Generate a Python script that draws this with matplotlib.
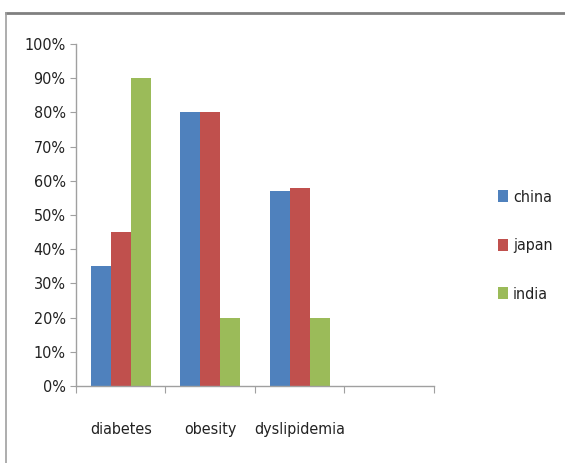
import matplotlib.pyplot as plt
import matplotlib.ticker as tck
from matplotlib.lines import Line2D
import numpy as np

plt.rcParams['font.family'] = ['DejaVu Sans']
plt.rcParams['font.stretch'] = 'condensed'

categories = ['diabetes', 'obesity', 'dyslipidemia', '']
countries = ['china', 'japan', 'india']
china = [0.35, 0.80, 0.57]
japan = [0.45, 0.80, 0.58]
india = [0.90, 0.20, 0.20]
colors = ['#4f81bd', '#c0504d', '#9bbb59']

fig = plt.figure(figsize=(5.65, 4.63), dpi=100)
ax = fig.add_axes([0.1345, 0.1663, 0.768 - 0.1345, 0.905 - 0.1663])

x = np.arange(len(china)) + 0.5
w = 0.223
for i, (vals, name) in enumerate(zip([china, japan, india], countries)):
    ax.bar(x + (i - 1) * w, vals, w, color=colors[i], label=name)

ax.set_xlim(0, len(categories))
ax.set_ylim(0, 1.0)
ax.yaxis.set_major_locator(tck.MultipleLocator(0.1))
ax.yaxis.set_major_formatter(tck.PercentFormatter(1.0, decimals=0))

# category boundaries get the ticks, names sit in between
ax.set_xticks(np.arange(len(categories) + 1))
ax.set_xticklabels([])
ax.set_xticks(np.arange(len(categories)) + 0.5, minor=True)
ax.set_xticklabels(categories, minor=True)
ax.tick_params(axis='x', which='minor', length=0, pad=26, labelsize=11.5, colors='#222222')
ax.tick_params(axis='x', which='major', length=5, color='#a0a0a0')
ax.tick_params(axis='y', length=4, color='#a0a0a0', labelsize=11.5, labelcolor='#222222')

for s in ['top', 'right']:
    ax.spines[s].set_visible(False)
for s in ['left', 'bottom']:
    ax.spines[s].set_color('#a0a0a0')
    ax.spines[s].set_linewidth(1)

leg = ax.legend(loc='center left', bbox_to_anchor=(1.14, 0.41), frameon=False,
                handlelength=0.6, handleheight=0.8, handletextpad=0.3,
                labelspacing=2.1, fontsize=11.5)
for t in leg.get_texts():
    t.set_color('#222222')

# outer frame (top and left edges)
fig.add_artist(Line2D([6 / 565, 1], [1 - 13 / 463] * 2, color='#808080', lw=2,
                      transform=fig.transFigure))
fig.add_artist(Line2D([6 / 565] * 2, [0, 1 - 13 / 463], color='#a0a0a0', lw=1.2,
                      transform=fig.transFigure))

fig.savefig('out.png', dpi=100)
